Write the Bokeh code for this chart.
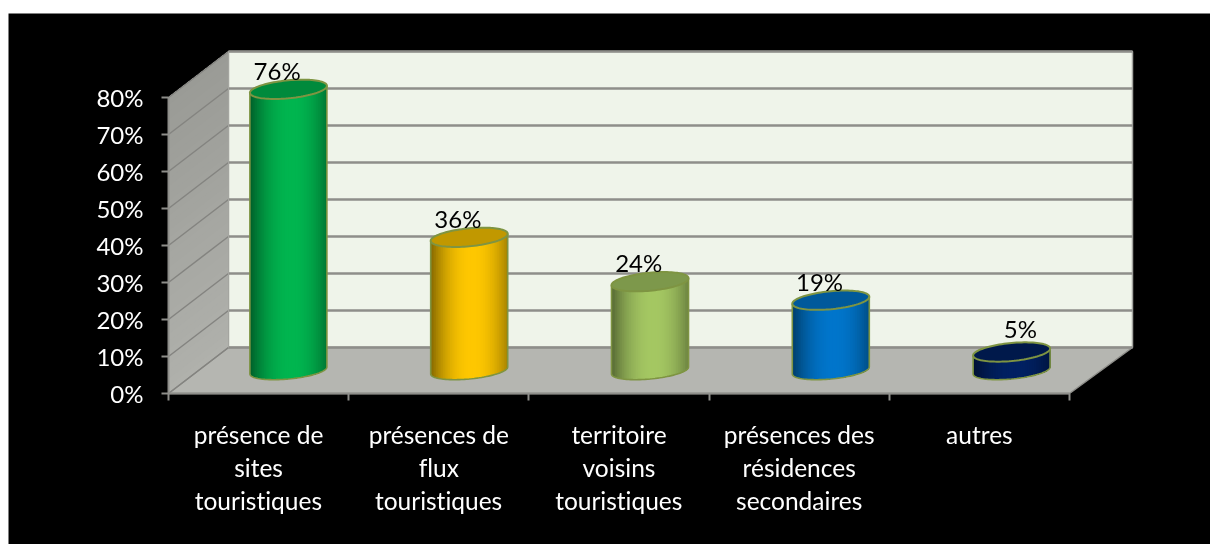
import math
from bokeh.plotting import figure
from bokeh.models import LinearAxis, FixedTicker, Range1d
from bokeh.core.properties import value
from bokeh.embed import file_html
from bokeh.resources import INLINE

categories = ["présence de\nsites\ntouristiques", "présences de\nflux\ntouristiques",
              "territoire\nvoisins\ntouristiques", "présences des\nrésidences\nsecondaires", "autres"]
values = [76, 36, 24, 19, 5]
labels = ["76%", "36%", "24%", "19%", "5%"]
colors = ["#00B650", "#FFC800", "#A5C863", "#0076CC", "#002163"]
y_ticks = [0, 10, 20, 30, 40, 50, 60, 70, 80]

PX, PY = 180.2, 3.7           # screen pixels per category / per percent
DX, DY = 60 / PX, 46 / PY     # depth of the box, in data units
RIGHT = 5 + 63 / PX           # right end of the back wall and floor
A, B, K = 38.5 / PX, 9 / PY, 3.5 / PY   # cylinder ellipse
SPREAD = 0.6 / PX             # cylinders sit a little wider apart than the ticks
FONT = "Lato"
OUT = "#7E9442"
GRID = "#8E8E8A"


def shade(c, f):
    r, g, b = int(c[1:3], 16), int(c[3:5], 16), int(c[5:7], 16)
    return "#%02x%02x%02x" % (int(r * f), int(g * f), int(b * f))


p = figure(width=1210, height=544, output_backend="svg", toolbar_location=None,
           x_range=Range1d((8 - 168) / PX, (1210 - 168) / PX),
           y_range=Range1d((393 - 544) / PY, (393 - 13) / PY),
           x_axis_location=None, y_axis_location=None,
           min_border_top=13, min_border_left=8, min_border_right=0, min_border_bottom=0,
           background_fill_color="black", border_fill_color="white")
p.styles = {"position": "fixed", "left": "0px", "top": "0px", "font-variant-ligatures": "none"}
p.outline_line_color = None
p.grid.visible = False

top = max(y_ticks)
# back wall
p.patch([DX, RIGHT, RIGHT, DX], [DY, DY, top + DY, top + DY], fill_color="#EFF4EA",
        line_color="#A4A5A0", line_width=1.5)
# side wall, painted from the bottom up so that no seams show
for i in range(40):
    a = top * i / 40
    g = 22 * (i / 40)
    col = "#%02x%02x%02x" % (int(176 - g), int(177 - g), int(172 - g))
    p.patch([0, DX, DX, 0], [a, a + DY, top + DY, top], fill_color=col, line_color=None)
# floor
p.patch([0, 5, RIGHT, DX], [0, 0, DY, DY], fill_color="#B5B6B1", line_color="#8E8E8A", line_width=1.5)
# grid lines
for t in y_ticks:
    p.line([0, DX], [t, t + DY], line_color="#848480", line_width=1.5)
    p.line([DX, RIGHT], [t + DY, t + DY], line_color=GRID, line_width=2.4)
p.line([DX, DX], [0 + DY, top + DY], line_color="#A4A5A0", line_width=1)
p.line([0, 0], [0, top], line_color=GRID, line_width=2)
p.line([0, 5], [0, 0], line_color=GRID, line_width=2)

# cylinders
N = 44
for i, (v, c) in enumerate(zip(values, colors)):
    cx = i + 0.5 + 59 / PX / 2 + i * SPREAD + 0.3 / PX
    y0 = DY / 2
    y1 = y0 + v
    low = lambda u: y0 - 8.5 / PY * math.sqrt(max(0, 1 - u * u)) + K * u
    for j in range(N):
        u1 = -1 + 2 * j / N
        um = u1 + 1 / N
        f = 1 - 0.48 * (abs(um - 0.08) / 1.08) ** 2.1
        us = [u1 + (1 - u1) * t / 40 for t in range(41)]
        xs = [cx + A * u for u in us] + [cx + A, cx + A * u1]
        ys = [low(u) for u in us] + [y1 + K, y1 + K * u1]
        p.patch(xs, ys, fill_color=shade(c, f), line_color=None)
    th = [2 * math.pi * t / 96 for t in range(97)]
    # outline of the side
    arc = [math.pi + math.pi * t / 48 for t in range(49)]
    ox = [cx - A] + [cx + A * math.cos(t) for t in arc] + [cx + A]
    oy = [y1 - K] + [y0 + 8.5 / PY * math.sin(t) + K * math.cos(t) for t in arc] + [y1 + K]
    p.line(ox, oy, line_color=OUT, line_width=1.6)
    # top ellipse
    p.patch([cx + A * math.cos(t) for t in th],
            [y1 + B * math.sin(t) + K * math.cos(t) for t in th],
            fill_color=shade(c, 0.76), line_color=OUT, line_width=2)

# value labels
label_dx = [-11 / PX, -11 / PX, -11 / PX, -11 / PX, 9 / PX]
label_dy = [19 / PY, 19 / PY, 19 / PY, 19 / PY, 24 / PY]
p.text([i + 0.5 + 59 / PX / 2 + i * SPREAD + d for i, d in enumerate(label_dx)],
       [DY / 2 + v + d for v, d in zip(values, label_dy)],
       text=labels, text_font=value(FONT), text_font_size="24px", text_color="black",
       text_align="center", text_baseline="alphabetic")

# category labels
p.text([i + 0.5 for i in range(5)], [(393 - 419) / PY] * 5, text=categories,
       text_font=value(FONT), text_font_size="24.5px", text_color="white",
       text_align="center", text_baseline="top", text_line_height=1.15)

# axes
ya = LinearAxis(fixed_location=0, ticker=FixedTicker(ticks=y_ticks),
                major_label_overrides={t: f"{t}%" for t in y_ticks})
ya.major_label_text_color = "white"
ya.major_label_text_font = FONT
ya.major_label_text_font_size = "24px"
ya.major_tick_in = 0
ya.major_tick_out = 7
ya.major_tick_line_color = GRID
ya.major_tick_line_width = 2
ya.axis_line_color = None
ya.minor_tick_line_color = None
ya.major_label_standoff = 18
ya.level = "annotation"
p.add_layout(ya, "left")

xa = LinearAxis(fixed_location=0, ticker=FixedTicker(ticks=[0, 1, 2, 3, 4, 5]),
                major_label_overrides={t: "" for t in range(6)})
xa.major_tick_in = 0
xa.major_tick_out = 7
xa.major_tick_line_color = GRID
xa.major_tick_line_width = 2
xa.axis_line_color = None
xa.minor_tick_line_color = None
xa.level = "annotation"
p.add_layout(xa, "below")

open("out.html", "w").write(file_html(p, INLINE))
